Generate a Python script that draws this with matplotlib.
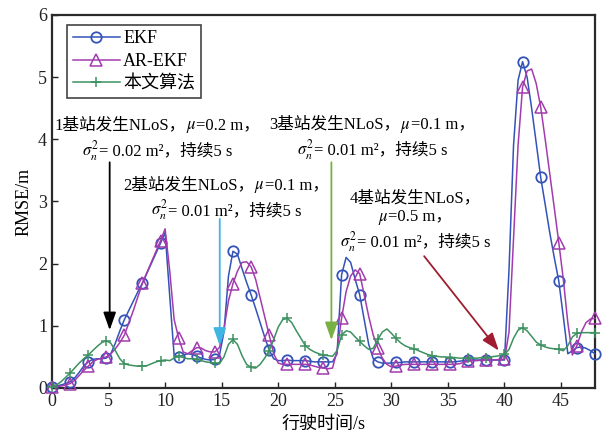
"""RMSE vs driving time: EKF / AR-EKF / proposed method, with NLoS event annotations."""
import matplotlib
matplotlib.use("Agg")
import matplotlib.pyplot as plt
import numpy as np
from matplotlib.offsetbox import TextArea, HPacker, VPacker, AnnotationBbox

plt.rcParams["font.family"] = ["Liberation Serif", "Noto Sans CJK SC"]
plt.rcParams["mathtext.fontset"] = "stix"
FAM = ["Liberation Serif", "Noto Sans CJK SC"]

# --- Data (0.4 s step, marker every 1.6 s) ---
time = np.linspace(0, 48, 121)

rmse_ekf = [
    0.02, 0.03, 0.05, 0.07, 0.10, 0.16, 0.25, 0.35, 0.42, 0.46,
    0.47, 0.47, 0.48, 0.55, 0.72, 0.92, 1.10, 1.25, 1.40, 1.55,
    1.69, 1.85, 2.01, 2.17, 2.33, 2.50, 1.50, 0.52, 0.50, 0.53,
    0.55, 0.54, 0.51, 0.48, 0.46, 0.45, 0.46, 0.52, 0.90, 1.80,
    2.20, 2.15, 1.92, 1.70, 1.50, 1.28, 1.05, 0.82, 0.61, 0.47,
    0.44, 0.44, 0.45, 0.44, 0.44, 0.44, 0.44, 0.43, 0.42, 0.42,
    0.42, 0.42, 0.42, 0.55, 1.82, 2.10, 2.02, 1.75, 1.50, 1.10,
    0.70, 0.47, 0.42, 0.40, 0.40, 0.40, 0.41, 0.41, 0.42, 0.42,
    0.42, 0.42, 0.42, 0.42, 0.42, 0.42, 0.42, 0.42, 0.42, 0.42,
    0.43, 0.44, 0.45, 0.45, 0.45, 0.45, 0.45, 0.45, 0.45, 0.45,
    0.45, 1.90, 3.90, 4.95, 5.25, 5.00, 4.50, 3.95, 3.39, 2.95,
    2.50, 2.10, 1.72, 1.15, 0.55, 0.60, 0.65, 0.66, 0.64, 0.60,
    0.55,
]

rmse_arekf = [
    0.02, 0.02, 0.03, 0.05, 0.07, 0.12, 0.20, 0.28, 0.35, 0.42,
    0.46, 0.48, 0.50, 0.55, 0.63, 0.73, 0.85, 1.05, 1.25, 1.47,
    1.69, 1.86, 2.03, 2.20, 2.37, 2.56, 1.90, 1.10, 0.80, 0.58,
    0.55, 0.60, 0.65, 0.64, 0.60, 0.58, 0.58, 0.65, 0.95, 1.40,
    1.68, 1.88, 2.02, 2.03, 1.95, 1.75, 1.45, 1.15, 0.85, 0.55,
    0.40, 0.38, 0.38, 0.38, 0.38, 0.38, 0.38, 0.37, 0.35, 0.33,
    0.32, 0.31, 0.32, 0.60, 1.12, 1.55, 1.80, 1.90, 1.84, 1.50,
    1.15, 0.85, 0.65, 0.48, 0.38, 0.34, 0.35, 0.37, 0.38, 0.38,
    0.38, 0.38, 0.38, 0.38, 0.38, 0.38, 0.38, 0.38, 0.38, 0.38,
    0.39, 0.41, 0.43, 0.44, 0.44, 0.45, 0.45, 0.45, 0.45, 0.46,
    0.46, 0.90, 2.40, 3.90, 4.84, 5.10, 5.13, 4.90, 4.52, 4.00,
    3.45, 2.90, 2.34, 1.75, 1.05, 0.53, 0.68, 0.90, 1.05, 1.11,
    1.12,
]

rmse_ours = [
    0.02, 0.05, 0.10, 0.17, 0.24, 0.32, 0.40, 0.47, 0.53, 0.60,
    0.67, 0.73, 0.76, 0.72, 0.60, 0.47, 0.39, 0.37, 0.36, 0.35,
    0.35, 0.36, 0.39, 0.42, 0.44, 0.45, 0.44, 0.48, 0.51, 0.49,
    0.47, 0.47, 0.46, 0.44, 0.42, 0.41, 0.40, 0.39, 0.50, 0.70,
    0.78, 0.70, 0.52, 0.38, 0.33, 0.32, 0.38, 0.48, 0.60, 0.78,
    0.98, 1.10, 1.12, 1.05, 0.92, 0.80, 0.68, 0.62, 0.58, 0.55,
    0.53, 0.52, 0.51, 0.60, 0.85, 0.92, 0.90, 0.82, 0.75, 0.68,
    0.62, 0.64, 0.78, 0.90, 0.95, 0.88, 0.80, 0.73, 0.68, 0.65,
    0.63, 0.60, 0.57, 0.54, 0.52, 0.51, 0.50, 0.50, 0.49, 0.49,
    0.48, 0.48, 0.48, 0.48, 0.48, 0.49, 0.49, 0.50, 0.51, 0.52,
    0.54, 0.62, 0.80, 0.93, 0.97, 0.92, 0.83, 0.74, 0.69, 0.66,
    0.64, 0.63, 0.62, 0.60, 0.68, 0.82, 0.88, 0.89, 0.89, 0.89,
    0.89,
]

series_names = ["EKF", "AR-EKF", "本文算法"]

# NLoS events: (text lines, text centre, arrow start, arrow tip, colour)
events = [
    ([["1基站发生NLoS，", r"$\mu$", "=0.2 m，"],
      [r"$\sigma_n^2$", "= 0.02 m²，持续5 s"]],
     (9.3, 3.99), (5.1, 3.63), (5.1, 0.93), "black"),
    ([["2基站发生NLoS，", r"$\mu$", "=0.1 m，"],
      [r"$\sigma_n^2$", "= 0.01 m²，持续5 s"]],
     (15.4, 3.03), (14.83, 2.72), (14.83, 0.68), "#3fb6e2"),
    ([["3基站发生NLoS，", r"$\mu$", "=0.1 m，"],
      [r"$\sigma_n^2$", "= 0.01 m²，持续5 s"]],
     (28.3, 4.0), (24.7, 3.63), (24.7, 0.77), "#79b043"),
    ([["4基站发生NLoS，"],
      [r"$\mu$", "=0.5 m，"],
      [r"$\sigma_n^2$", "= 0.01 m²，持续5 s"]],
     (32.1, 2.67), (32.9, 2.12), (39.5, 0.60), "#a01c30"),
]

fig = plt.figure(figsize=(6.03, 4.38), dpi=100)
ax = fig.add_axes([0.0862, 0.1142, 0.9005, 0.8516])

ax.plot(time, rmse_ekf, color="#3353b8", lw=1.1, marker="o", ms=7.5,
        mfc="none", mew=1.3, markevery=4, label=series_names[0], clip_on=False, zorder=3)
ax.plot(time, rmse_arekf, color="#a23cae", lw=1.1, marker="^", ms=8,
        mfc="none", mew=1.1, markevery=4, label=series_names[1], clip_on=False, zorder=3)
ax.plot(time, rmse_ours, color="#3d9160", lw=1.1, marker="+", ms=7,
        mew=1.1, markevery=4, label=series_names[2], clip_on=False, zorder=3)

for lines, centre, start, tip, col in events:
    ax.annotate("", xy=tip, xytext=start,
                arrowprops=dict(arrowstyle="-|>,head_length=0.9,head_width=0.32",
                                color=col, lw=1.3, mutation_scale=12,
                                shrinkA=0, shrinkB=0), zorder=4)
    rows = []
    for parts in lines:
        areas = [TextArea(p, textprops=dict(fontsize=12, family=FAM)) for p in parts]
        rows.append(HPacker(children=areas, align="baseline", pad=0, sep=0))
    box = VPacker(children=rows, align="center", pad=0, sep=2)
    ab = AnnotationBbox(box, centre, xycoords="data", frameon=False,
                        box_alignment=(0.5, 0.5), zorder=5)
    ax.add_artist(ab)

ax.set_xlim(0, 48)
ax.set_ylim(0, 6)
ax.set_xticks(np.arange(0, 46, 5))
ax.set_yticks(np.arange(0, 7, 1))
ax.tick_params(direction="in", length=4, width=1.0, labelsize=13,
               top=False, right=False, colors="#222222")
for sp in ax.spines.values():
    sp.set_linewidth(1.6)
    sp.set_color("#2a2a2a")

ax.set_xlabel("行驶时间/s", fontsize=13, labelpad=4)
ax.set_ylabel("RMSE/m", fontsize=13, labelpad=4)

leg = ax.legend(loc="upper left", bbox_to_anchor=(0.028, 0.973), borderaxespad=0,
                fontsize=13, handlelength=2.6, handletextpad=0.2,
                labelspacing=0.3, borderpad=0.3, fancybox=False, framealpha=1)
leg.get_frame().set_edgecolor("#444444")
leg.get_frame().set_linewidth(1.2)

fig.savefig("out.png", dpi=100)
